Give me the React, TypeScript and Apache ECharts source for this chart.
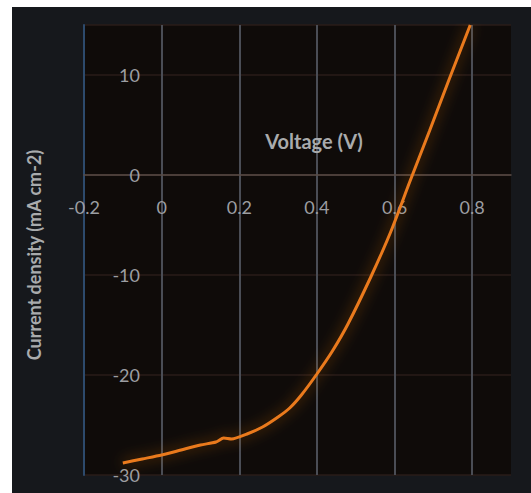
import React, { useEffect, useRef } from "react";
import * as echarts from "echarts";

const voltage = [-0.1, -0.05, 0.0, 0.05, 0.1, 0.14, 0.16, 0.18, 0.22, 0.26, 0.3, 0.33, 0.36, 0.4, 0.44, 0.48, 0.54, 0.59, 0.64, 0.69, 0.74, 0.795];
const currentDensity = [-28.8, -28.4, -28.0, -27.5, -27.0, -26.7, -26.3, -26.4, -25.9, -25.2, -24.2, -23.3, -22.0, -19.9, -17.6, -14.9, -10.1, -5.7, -0.6, 4.4, 9.5, 15.0];
const xTicks = [-0.2, 0, 0.2, 0.4, 0.6, 0.8];
const yTicks = [-30, -20, -10, 0, 10];
const xTitle = "Voltage (V)";
const yTitle = "Current density (mA cm-2)";

const FONT = "Lato, 'Open Sans', sans-serif";
const X_MIN = -0.2, X_MAX = 0.9, Y_MIN = -30, Y_MAX = 15;
const GRID = { left: 84, right: 20, top: 25, bottom: 18 };
const H = 493;

export default function App() {
  const ref = useRef<HTMLDivElement>(null);
  useEffect(() => {
    if (!ref.current) return;
    const chart = echarts.init(ref.current, undefined, { renderer: "svg" });
    const data = voltage.map((v, i) => [v, currentDensity[i]]);
    const gridH = H - GRID.top - GRID.bottom;
    const zeroOffset = -gridH * (0 - Y_MIN) / (Y_MAX - Y_MIN);
    chart.setOption({
      animation: false,
      backgroundColor: "#ffffff",
      graphic: [
        { type: "rect", z: -10, shape: { x: 12, y: 7, width: 519, height: 486 }, style: { fill: "#16181c" } },
        {
          type: "text", x: 314, y: 141, z: 10,
          style: { text: xTitle, fill: "#a9abad", font: `bold 20px ${FONT}`, align: "center", verticalAlign: "middle" },
        },
        {
          type: "text", x: 34, y: 255, rotation: Math.PI / 2, z: 10,
          style: { text: yTitle, fill: "#a9abad", font: `bold 18px ${FONT}`, align: "center", verticalAlign: "middle" },
        },
      ],
      grid: {
        ...GRID,
        show: true, backgroundColor: "#0f0b09", borderWidth: 0,
      },
      xAxis: {
        type: "value", min: X_MIN, max: X_MAX, interval: 0.2,
        offset: zeroOffset,
        axisLine: { onZero: false, lineStyle: { color: "#5a4c46", width: 1.5 } },
        axisTick: { show: false },
        axisLabel: {
          margin: 23, color: "#9c9ea2", fontSize: 18, fontFamily: FONT, showMaxLabel: false,
          formatter: (v: number) => {
            const t = xTicks.find((x) => Math.abs(x - v) < 1e-6);
            return t === undefined ? "" : t === 0 ? "0" : String(t);
          },
        },
        splitLine: {
          show: true,
          lineStyle: { color: ["rgba(0,0,0,0)", "#4a4d55", "#4a4d55", "#4a4d55", "#4a4d55", "#4a4d55", "rgba(0,0,0,0)"], width: 2 },
        },
      },
      yAxis: {
        type: "value", min: Y_MIN, max: Y_MAX, interval: 10,
        axisLine: { show: true, onZero: false, lineStyle: { color: "#2d4a6c", width: 2 } },
        axisTick: { show: false },
        axisLabel: {
          margin: -56, color: "#9c9ea2", fontSize: 18, fontFamily: FONT, showMaxLabel: false,
          formatter: (v: number) => (yTicks.includes(v) ? String(v) : ""),
        },
        splitLine: { show: true, lineStyle: { color: "#2a1d19", width: 1.5 } },
      },
      series: [
        {
          type: "line", data, showSymbol: false, smooth: 0.25,
          lineStyle: { color: "#ea7a1e", width: 3, shadowBlur: 14, shadowColor: "rgba(235,120,30,0.6)" },
        },
      ],
    });
    return () => chart.dispose();
  }, []);
  return (
    <div style={{ position: "absolute", left: 0, top: 0, width: 531, height: 493, background: "#fff" }}>
      <div ref={ref} style={{ width: 531, height: 493 }} />
    </div>
  );
}
